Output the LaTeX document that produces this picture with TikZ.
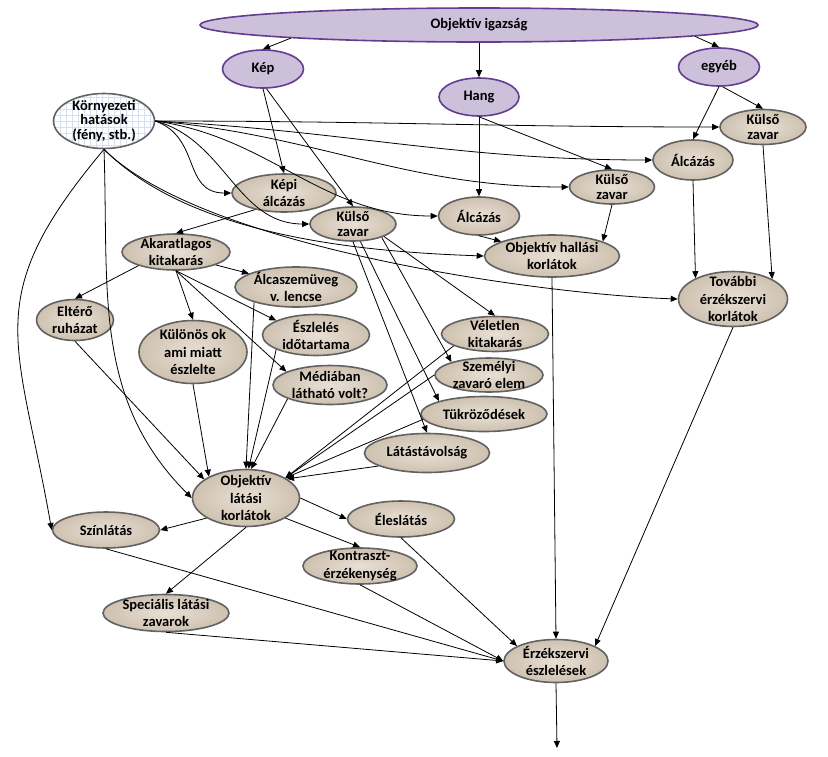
\documentclass[tikz,border=0pt]{standalone}
\usepackage{fontspec}
\setmainfont{Carlito}
\usetikzlibrary{shapes.geometric,arrows.meta}
\definecolor{paper}{RGB}{206,193,176}
\definecolor{paperlight}{RGB}{232,224,213}
\definecolor{paperline}{RGB}{98,98,98}
\definecolor{lila}{RGB}{204,192,218}
\definecolor{lilaline}{RGB}{100,60,145}
\definecolor{gridblue}{RGB}{214,224,240}
\begin{document}
\begin{tikzpicture}[x=1pt,y=1pt]
	\tikzstyle{sense}=[ellipse,draw=lilaline,line width=1.6pt,fill=lila,inner sep=0pt,font=\fontsize{14.5}{17}\selectfont\bfseries]
	\tikzstyle{factor}=[ellipse,draw=paperline,line width=1.6pt,inner color=paperlight,outer color=paper,inner sep=-6pt,align=center,font=\fontsize{14.5}{17.5}\selectfont\bfseries]
	\tikzstyle{tight}=[font=\fontsize{14.5}{14.5}\selectfont\bfseries]
	\tikzstyle{env}=[ellipse,draw=paperline,line width=1.6pt,fill=white,inner sep=-6pt,align=center,font=\fontsize{14.5}{14.5}\selectfont\bfseries,
		path picture={\draw[gridblue,line width=0.4pt] (path picture bounding box.south west) grid[step=6pt] (path picture bounding box.north east);}]
	\tikzstyle{link}=[draw,line width=0.8pt,-{Triangle[length=7pt,width=6pt]}]
	\fill[white] (0,0) rectangle (828,-756);
	\useasboundingbox (0,0) rectangle (828,-756);
	\begin{scope}
		\node [sense,minimum width=558pt,minimum height=34pt] (ig) at (479,-25) {Objektív igazság};
		\node [sense,minimum width=81pt,minimum height=38pt] (kep) at (263,-69) {Kép};
		\node [sense,minimum width=80pt,minimum height=38pt] (hang) at (479,-97) {Hang};
		\node [sense,minimum width=81pt,minimum height=38pt] (egyeb) at (719,-67) {egyéb};
		\node [env,minimum width=101pt,minimum height=55pt] (kh) at (104,-121) {Környezeti\\hatások\\(fény, stb.)};
		\node [factor,minimum width=104pt,minimum height=38pt] (kepialc) at (284,-193) {Képi\\álcázás};
		\node [factor,tight,minimum width=86pt,minimum height=34pt] (kz1) at (353,-224) {Külső\\zavar};
		\node [factor,minimum width=81pt,minimum height=38pt] (alc1) at (479,-216) {Álcázás};
		\node [factor,tight,minimum width=85pt,minimum height=34pt] (kz2) at (612,-187) {Külső\\zavar};
		\node [factor,minimum width=80pt,minimum height=40pt] (alc2) at (693,-160) {Álcázás};
		\node [factor,tight,minimum width=86pt,minimum height=35pt] (kz3) at (763,-127) {Külső\\zavar};
		\node [factor,minimum width=135pt,minimum height=42pt] (oh) at (552,-256) {Objektív hallási\\korlátok};
		\node [factor,minimum width=109pt,minimum height=55pt] (tov) at (733,-299) {További\\érzékszervi\\korlátok};
		\node [factor,minimum width=108pt,minimum height=36pt] (akk) at (176,-252) {Akaratlagos\\kitakarás};
		\node [factor,minimum width=122pt,minimum height=40pt] (alcsz) at (296,-287) {Álcaszemüveg\\v. lencse};
		\node [factor,minimum width=77pt,minimum height=41pt] (elt) at (75,-320) {Eltérő\\ruházat};
		\node [factor,minimum width=108pt,minimum height=63pt] (kul) at (193,-352) {Különös ok\\ami miatt\\észlelte};
		\node [factor,minimum width=107pt,minimum height=41pt] (eszl) at (316,-335) {Észlelés\\időtartama};
		\node [factor,minimum width=114pt,minimum height=39pt] (med) at (330,-385) {Médiában\\látható volt?};
		\node [factor,minimum width=107pt,minimum height=35pt] (vel) at (495,-334) {Véletlen\\kitakarás};
		\node [factor,minimum width=108pt,minimum height=34pt] (sze) at (489,-375) {Személyi\\zavaró elem};
		\node [factor,minimum width=126pt,minimum height=35pt] (tuk) at (484,-414) {Tükröződések};
		\node [factor,minimum width=125pt,minimum height=39pt] (lat) at (427,-453) {Látástávolság};
		\node [factor,minimum width=107pt,minimum height=57pt] (olk) at (246,-498) {Objektív\\látási\\korlátok};
		\node [factor,minimum width=107pt,minimum height=36pt] (szin) at (106,-530) {Színlátás};
		\node [factor,minimum width=107pt,minimum height=36pt] (eles) at (401,-519) {Éleslátás};
		\node [factor,minimum width=114pt,minimum height=36pt] (kon) at (360,-566) {Kontraszt-\\érzékenység};
		\node [factor,minimum width=126pt,minimum height=37pt] (spec) at (166,-613) {Speciális látási\\zavarok};
		\node [factor,minimum width=104pt,minimum height=43pt] (erz) at (556,-661) {Érzékszervi\\észlelések};
		\coordinate (out) at (557,-748);

		\path (ig.-176.5) edge [link] (kep.north);
		\path (ig) edge [link] (hang);
		\path (ig.-3.5) edge [link] (egyeb.north);
		\path (kep.south) edge [link] (kepialc.north);
		\path (kep.-80) edge [link] (kz1.north);
		\path (hang) edge [link] (alc1);
		\path (hang.south) edge [link] (kz2.north);
		\path (egyeb.south) edge [link] (alc2.north);
		\path (egyeb.-80) edge [link] (kz3.north);
		\path (alc1.south) edge [link] (oh.164);
		\path (kz2.south) edge [link] (oh.16);
		\path (alc2.south) edge [link] (tov.151);
		\path (kz3.south) edge [link] (tov.27);
		\path (oh.south) edge [link] (erz.north);
		\path (tov.south) edge [link] (erz.21);

		\path (kh.east) edge [link,out=-20,in=180,looseness=1.2] (kepialc.west);
		\path (kh.east) edge [link,out=-15,in=180] (kz1.west);
		\path (kh.east) edge [link,out=-8,in=180] (alc1.west);
		\path (kh.east) edge [link,out=-5,in=180] (kz2.west);
		\path (kh.east) edge [link,out=-3,in=180] (alc2.west);
		\path (kh.east) edge [link,out=0,in=180] (kz3.west);
		\path (kh.south) edge [link,out=-45,in=178,looseness=0.8] (oh.west);
		\path (kh.south) edge [link,out=-45,in=178,looseness=0.6] (tov.west);
		\path (kh.south) edge [link,out=-88,in=135] (olk.west);
		\path (kh.south) edge [link,out=-130,in=100,looseness=1.3] (szin.west);

		\path (kepialc.-150) edge [link] (akk.north);
		\path (akk.-160) edge [link] (elt.north);
		\path (akk.south) edge [link] (kul.north);
		\path (akk.-18) edge [link] (alcsz.164);
		\path (akk.south) edge [link] (eszl.160);
		\path (akk.south) edge [link] (med.163);

		\path (elt.south) edge [link] (olk.156);
		\path (kul.south) edge [link] (olk.150);
		\path (alcsz.-160) edge [link] (olk.north);
		\path (eszl.-160) edge [link] (olk.85);
		\path (med.-162) edge [link] (olk.80);
		\path (vel.-164) edge [link] (olk.27);
		\path (sze.west) edge [link] (olk.27);
		\path (tuk.-175) edge [link] (olk.27);
		\path (lat.-165) edge [link] (olk.25);

		\path (kz1.-22) edge [link] (vel.north);
		\path (kz1.-25) edge [link] (sze.161);
		\path (kz1.-67) edge [link] (tuk.164);
		\path (kz1.south) edge [link] (lat.north);

		\path (olk.-153) edge [link] (szin.east);
		\path (olk.east) edge [link] (eles.west);
		\path (olk.-27) edge [link] (kon.north);
		\path (olk.south) edge [link] (spec.north);
		\path (szin.south) edge [link] (erz.west);
		\path (spec.south) edge [link] (erz.west);
		\path (kon.south) edge [link] (erz.west);
		\path (eles.south) edge [link] (erz.159);
		\path (erz.south) edge [link] (out);
	\end{scope}
\end{tikzpicture}
\end{document}
